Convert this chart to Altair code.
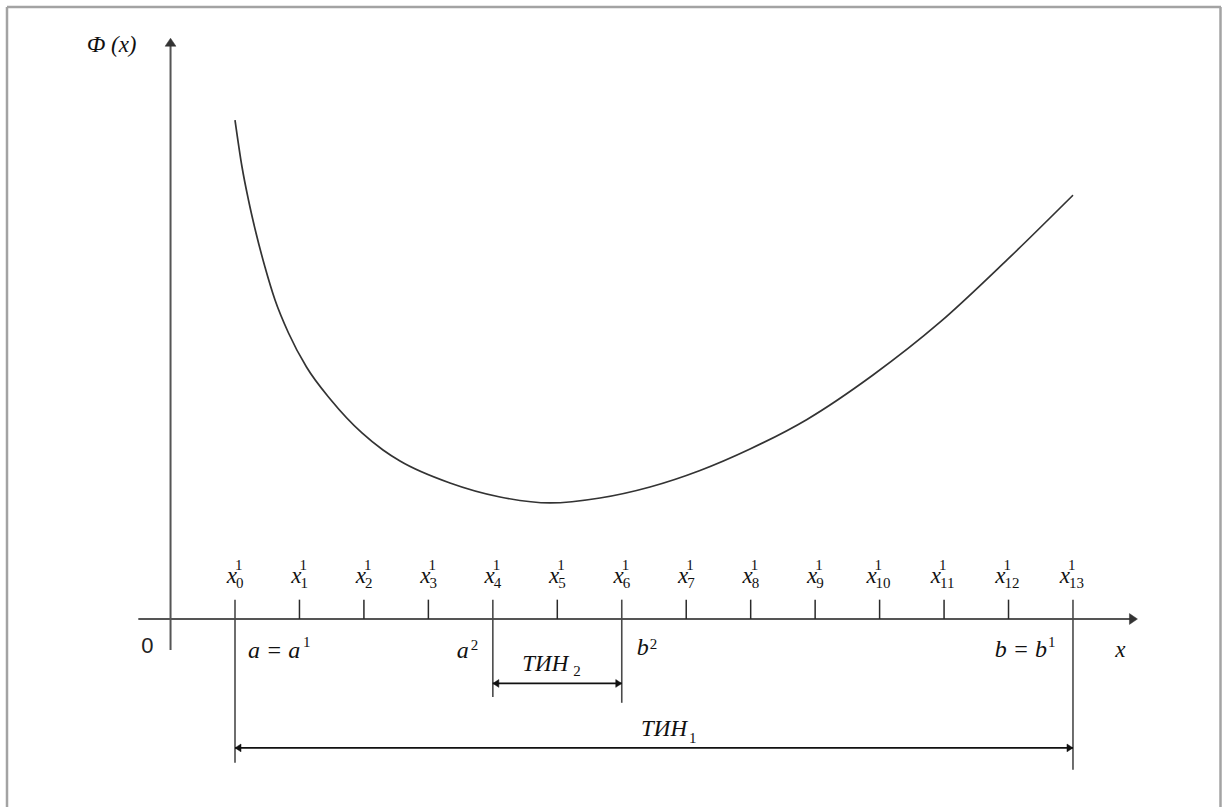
import altair as alt
import pandas as pd

# Grid points x_0^1 ... x_13^1 of the first uniform search
tick_index = list(range(14))
# Uncertainty intervals: ТИН_1 = [a^1, b^1], ТИН_2 = [a^2, b^2]
tin1 = (0, 13)
tin2 = (4, 6)
origin_x = -1.0

# Objective Φ(x) sampled along the curve (x in grid steps)
phi_x = [0.0, 0.109, 0.209, 0.326, 0.465, 0.621, 0.830, 1.109, 1.489, 1.970, 2.296, 2.560,
         3.335, 4.111, 4.887, 5.662, 6.438, 7.214, 7.990, 8.874, 9.898, 10.937, 11.977, 13.0]
phi_y = [7.741, 7.012, 6.500, 5.988, 5.461, 4.949, 4.437, 3.909, 3.398, 2.886, 2.622, 2.451,
         2.110, 1.893, 1.800, 1.877, 2.048, 2.304, 2.637, 3.096, 3.785, 4.604, 5.571, 6.575]

# ---- drawing setup ----
W, H = 1222, 807
UNIT = 64.46                      # pixels per grid step
X0_PX, AXIS_PX = 235, 619         # where x_0 and the x axis sit
xs = alt.Scale(domain=[-X0_PX / UNIT, (W - X0_PX) / UNIT], nice=False, zero=False)
ys = alt.Scale(domain=[(AXIS_PX - H) / UNIT, AXIS_PX / UNIT], nice=False, zero=False)

SERIF = "'Liberation Serif', 'Times New Roman', 'DejaVu Serif', serif"
SANS = "'Liberation Sans', Arial, sans-serif"
INK = "#111111"
AXIS_GREY = "#555555"


def enc(chart, x="x", y="y", x2=None, y2=None):
    kw = dict(x=alt.X(f"{x}:Q", scale=xs, axis=None),
              y=alt.Y(f"{y}:Q", scale=ys, axis=None))
    if x2:
        kw["x2"] = alt.X2(f"{x2}:Q")
    if y2:
        kw["y2"] = alt.Y2(f"{y2}:Q")
    return chart.encode(**kw)


def label(x, y, text, dx, dy, size, align="left", italic=True, font=SERIF, color=INK):
    c = alt.Chart(pd.DataFrame({"x": [x], "y": [y]})).mark_text(
        text=text, dx=dx, dy=dy, fontSize=size, align=align, baseline="alphabetic",
        font=font, fontStyle="italic" if italic else "normal", color=color)
    return enc(c)


def head(x, y, path, size, color):
    c = alt.Chart(pd.DataFrame({"x": [x], "y": [y]})).mark_point(
        shape=path, size=size, filled=True, fill=color, stroke=color, strokeWidth=0.5, opacity=1)
    return enc(c)


layers = []

# frame around the figure
one = pd.DataFrame({"k": [0]})
frame = alt.Chart(one).mark_rule(color="#a3a3a3", strokeWidth=2.5)
layers += [
    frame.encode(x=alt.value(7), x2=alt.value(W - 1), y=alt.value(7), y2=alt.value(7)),
    frame.encode(x=alt.value(7), x2=alt.value(7), y=alt.value(7), y2=alt.value(H)),
    frame.encode(x=alt.value(W - 1.5), x2=alt.value(W - 1.5), y=alt.value(7), y2=alt.value(H)),
]

# coordinate axes with arrow heads
x_axis_start, x_axis_end = -1.5, 14.0
y_axis_bottom, y_axis_top = -0.48, 9.01
axes = pd.DataFrame({
    "x": [x_axis_start, origin_x], "x2": [x_axis_end - 0.08, origin_x],
    "y": [0.0, y_axis_bottom], "y2": [0.0, y_axis_top - 0.1],
})
layers.append(enc(alt.Chart(axes).mark_rule(color=AXIS_GREY, strokeWidth=2), x2="x2", y2="y2"))
layers.append(head(x_axis_end, 0.0, "M-2,-1.35L0,0L-2,1.35Z", 64, "#333333"))
layers.append(head(origin_x, y_axis_top, "M-1.35,2L0,0L1.35,2Z", 64, "#333333"))

# grid ticks; the interval ends run down to their arrows
tick_top = 0.3
bottoms = {tin1[0]: -2.23, tin1[1]: -2.34, tin2[0]: -1.21, tin2[1]: -1.30}
ticks = pd.DataFrame({
    "x": tick_index,
    "y": [tick_top] * len(tick_index),
    "y2": [bottoms.get(i, 0.0) for i in tick_index],
    "long": [i in bottoms for i in tick_index],
})
layers.append(enc(alt.Chart(ticks).transform_filter("!datum.long")
                  .mark_rule(color="#2a2a2a", strokeWidth=1.5), y2="y2"))
layers.append(enc(alt.Chart(ticks).transform_filter("datum.long")
                  .mark_rule(color="#4a4a4a", strokeWidth=1.6), y2="y2"))

# Φ(x)
curve = pd.DataFrame({"x": phi_x, "y": phi_y})
layers.append(enc(alt.Chart(curve).mark_line(color="#333333", strokeWidth=1.7,
                                               interpolate="monotone")))

# double arrows for the uncertainty intervals
spans = pd.DataFrame({"x": [tin2[0], tin1[0]], "x2": [tin2[1], tin1[1]], "y": [-1.0, -2.0]})
layers.append(enc(alt.Chart(spans).mark_rule(color="#111111", strokeWidth=1.8), x2="x2"))
for lo, hi, yv in [(tin2[0], tin2[1], -1.0), (tin1[0], tin1[1], -2.0)]:
    layers.append(head(lo, yv, "M2,-1.3L0,0L2,1.3Z", 36, "#111111"))
    layers.append(head(hi, yv, "M-2,-1.3L0,0L-2,1.3Z", 36, "#111111"))

# grid labels x_i^1
tl = pd.DataFrame({"x": tick_index, "y": [0.0] * len(tick_index),
                   "sub": [str(i) for i in tick_index], "two": [i >= 10 for i in tick_index]})
for flt, shift in [("!datum.two", 0), ("datum.two", -5)]:
    base = alt.Chart(tl).transform_filter(flt)
    layers.append(enc(base.mark_text(text="x", align="right", baseline="alphabetic",
                                     dx=2 + shift, dy=-36, fontSize=23, font=SERIF,
                                     fontStyle="italic", color=INK)))
    layers.append(enc(base.mark_text(text="1", align="left", baseline="alphabetic",
                                     dx=0 + shift, dy=-49, fontSize=15, font=SERIF, color=INK)))
    layers.append(enc(base.mark_text(align="left", baseline="alphabetic",
                                     dx=1 + shift, dy=-31, fontSize=15, font=SERIF, color=INK)
                      .encode(text="sub:N")))

# axis captions
layers.append(label(origin_x, y_axis_top, "Ф (x)", -34, 14, 23, align="right"))
layers.append(label(origin_x, 0.0, "0", -17, 34, 22, align="right", italic=False, font=SANS,
                    color="#222222"))
layers.append(label(x_axis_end, 0.0, "x", -17, 38, 23, align="center"))

# interval end labels
layers.append(label(tin1[0], 0.0, "a = a", 13, 39, 24))
layers.append(label(tin1[0], 0.0, "1", 68, 28, 15, italic=False))
layers.append(label(tin2[0], 0.0, "a", -24, 39, 24, align="right"))
layers.append(label(tin2[0], 0.0, "2", -22, 31, 15, italic=False))
layers.append(label(tin2[1], 0.0, "b", 15, 36, 24))
layers.append(label(tin2[1], 0.0, "2", 28, 30, 15, italic=False))
layers.append(label(tin1[1], 0.0, "b = b", -26, 38, 24, align="right"))
layers.append(label(tin1[1], 0.0, "1", -25, 28, 15, italic=False))

# interval names
mid2 = (tin2[0] + tin2[1]) / 2
mid1 = (tin1[0] + tin1[1]) / 2
layers.append(label(mid2, -1.0, "ТИН", -35, -12, 23))
layers.append(label(mid2, -1.0, "2", 16, -7, 15, italic=False))
layers.append(label(mid1, -2.0, "ТИН", -13, -12, 23))
layers.append(label(mid1, -2.0, "1", 35, -5, 15, italic=False))

chart = alt.layer(*layers).properties(
    width=W, height=H, autosize="none", padding=0, background="white"
).configure_view(stroke=None)

chart.save("out.html", embed_options={"renderer": "svg", "actions": False})
